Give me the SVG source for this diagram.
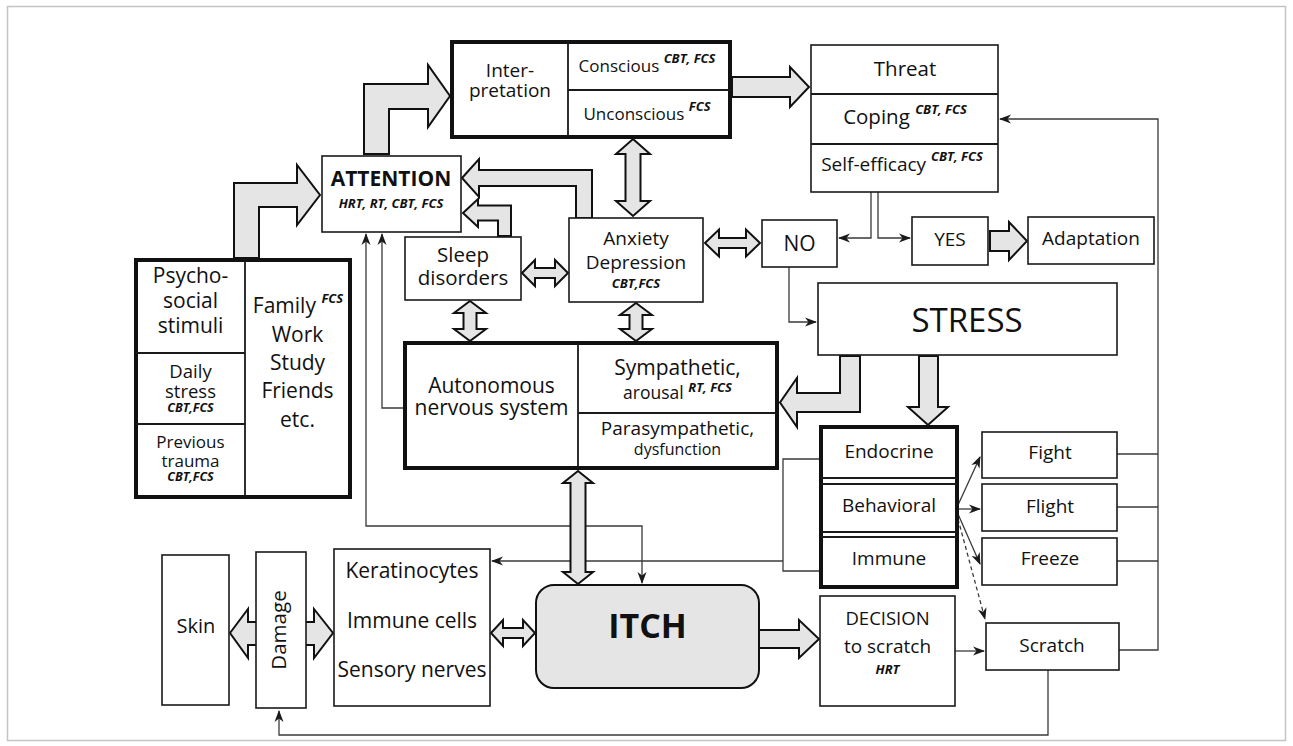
<svg xmlns="http://www.w3.org/2000/svg" width="1293" height="746" viewBox="0 0 1293 746">
<style>
text{font-family:"Open Sans","Noto Sans","DejaVu Sans",sans-serif;fill:#111;text-anchor:middle}
.box{fill:#fff;stroke:#1a1a1a;stroke-width:1.6}
.thick{fill:#fff;stroke:#111;stroke-width:4}
.div{stroke:#1a1a1a;stroke-width:1.8;fill:none}
.blk{fill:#e5e5e5;stroke:#111;stroke-width:2;stroke-linejoin:miter}
.ln{fill:none;stroke:#3a3a3a;stroke-width:1.3}
.bi{font-weight:bold;font-style:italic}
.sup{font-weight:bold;font-style:italic;font-size:13px}
</style>
<defs>
<marker id="ah" viewBox="0 0 12 10" refX="11" refY="5" markerWidth="12" markerHeight="10" markerUnits="userSpaceOnUse" orient="auto-start-reverse">
<path d="M0,0.5 L12,5 L0,9.5 L3.5,5 z" fill="#1a1a1a"/>
</marker>
</defs>
<rect x="7.5" y="6.5" width="1278" height="734" fill="#fff" stroke="#c4c4c4" stroke-width="1.5"/>

<g id="connectors">
<g id="thin-lines">
<path class="ln" d="M405,408 H382 V234" marker-end="url(#ah)"/>
<path class="ln" d="M366,234 V526 H642 V583" marker-start="url(#ah)" marker-end="url(#ah)"/>
<path class="ln" d="M821,459 H783 V571 H821"/>
<path class="ln" d="M783,561 H492" marker-end="url(#ah)"/>
<path class="ln" d="M871,192 V238 H839" marker-end="url(#ah)"/>
<path class="ln" d="M878,192 V238 H910" marker-end="url(#ah)"/>
<path class="ln" d="M789,267 V322 H816" marker-end="url(#ah)"/>
<path class="ln" d="M958,505 L980,457" marker-end="url(#ah)"/>
<path class="ln" d="M958,509 H980" marker-end="url(#ah)"/>
<path class="ln" d="M958,514 L980,564" marker-end="url(#ah)"/>
<path class="ln" d="M958,519 L985,619" stroke-dasharray="4,3" marker-end="url(#ah)"/>
<path class="ln" d="M1117,454 H1158"/>
<path class="ln" d="M1117,507 H1158"/>
<path class="ln" d="M1117,561 H1158"/>
<path class="ln" d="M1119,650 H1158 V119 H1000" marker-end="url(#ah)"/>
<path class="ln" d="M955,651 H984" marker-end="url(#ah)"/>
<path class="ln" d="M1048,670 V735 H279 V711" marker-end="url(#ah)"/>
</g>
<g id="block-arrows">
<polygon class="blk" points="234,258 234,183 297,183 297,165 320,195 297,225 297,207 259,207 259,258"/>
<polygon class="blk" points="364,154 364,84 428,84 428,65 450,96 428,127 428,109 389,109 389,154"/>
<polygon class="blk" points="462,178 479,159 479,170 592,170 592,218 576,218 576,186 479,186 479,197"/>
<polygon class="blk" points="463,213 478,199 478,205.5 511,205.5 511,236 498,236 498,220.5 478,220.5 478,227"/>
<polygon class="blk" points="633,139 650,154 640.5,154 640.5,201 650,201 633,216 616,201 625.5,201 625.5,154 616,154"/>
<polygon class="blk" points="732,77 790,77 790,67 809,87 790,107 790,97 732,97"/>
<polygon class="blk" points="705,243 719,229.5 719,238 746,238 746,229.5 760,243 746,256.5 746,248 719,248 719,256.5"/>
<polygon class="blk" points="522,273 535,260 535,268 555,268 555,260 568,273 555,286 555,278 535,278 535,286"/>
<polygon class="blk" points="470,301 486,313 476.5,313 476.5,329 486,329 470,341 454,329 463.5,329 463.5,313 454,313"/>
<polygon class="blk" points="636,303 652,315 642.5,315 642.5,329 652,329 636,341 620,329 629.5,329 629.5,315 620,315"/>
<polygon class="blk" points="990,231 1009,231 1009,222 1027,241 1009,260 1009,251 990,251"/>
<polygon class="blk" points="860,356 860,412 797,412 797,427 780,402.5 797,378 797,393 840,393 840,356"/>
<polygon class="blk" points="919,356 938,356 938,407 948,407 928,425 908,407 919,407"/>
<polygon class="blk" points="578,471 593,483 585.5,483 585.5,572 593,572 578,584 563,572 570.5,572 570.5,483 563,483"/>
<polygon class="blk" points="491,633 503,620 503,628 523,628 523,620 535,633 523,646 523,638 503,638 503,646"/>
<polygon class="blk" points="230,633 248,609 248,622 314,622 314,609 333,633 314,658 314,645 248,645 248,658"/>
<polygon class="blk" points="759,630 799,630 799,620 819,639 799,658 799,648 759,648"/>
</g>
</g>

<g id="interpretation">
<rect class="thick" x="452" y="42" width="278" height="95"/>
<path class="div" d="M568,42 V137 M568,90 H730"/>
<text x="510" y="77" font-size="19">Inter-</text>
<text x="510" y="97" font-size="19">pretation</text>
<text x="647" y="72" font-size="17">Conscious <tspan class="sup" dy="-9">CBT, FCS</tspan></text>
<text x="647" y="120" font-size="17">Unconscious <tspan class="sup" dy="-9">FCS</tspan></text>
</g>

<g id="threat">
<rect class="box" x="811" y="45" width="187" height="147"/>
<path class="div" d="M811,94 H998 M811,144 H998"/>
<text x="905" y="76" font-size="20.5">Threat</text>
<text x="905" y="124" font-size="20.5">Coping <tspan class="sup" dy="-10">CBT, FCS</tspan></text>
<text x="902" y="171" font-size="19">Self-efficacy <tspan class="sup" dy="-10">CBT, FCS</tspan></text>
</g>

<g id="attention">
<rect class="box" x="322" y="156" width="139" height="76"/>
<text x="391" y="186" font-size="21" font-weight="bold">ATTENTION</text>
<text x="391" y="208" font-size="13" class="bi">HRT, RT, CBT, FCS</text>
</g>

<g id="sleep">
<rect class="box" x="405" y="237" width="116" height="63"/>
<text x="463" y="262" font-size="20.5">Sleep</text>
<text x="463" y="285" font-size="20.5">disorders</text>
</g>

<g id="anxiety">
<rect class="box" x="569" y="218" width="134" height="84"/>
<text x="636" y="245" font-size="19">Anxiety</text>
<text x="636" y="269" font-size="19">Depression</text>
<text x="636" y="288" font-size="13" class="bi">CBT,FCS</text>
</g>

<g id="no">
<rect class="box" x="762" y="220" width="75" height="47"/>
<text x="799.5" y="251" font-size="21">NO</text>
</g>

<g id="yes">
<rect class="box" x="912" y="217" width="76" height="48"/>
<text x="950" y="246" font-size="19">YES</text>
</g>

<g id="adaptation">
<rect class="box" x="1028" y="217" width="126" height="47"/>
<text x="1091" y="245" font-size="19">Adaptation</text>
</g>

<g id="stress">
<rect class="box" x="818" y="283" width="299" height="72"/>
<text x="967" y="332" font-size="33">STRESS</text>
</g>

<g id="psychosocial">
<rect class="thick" x="136" y="260" width="214" height="237"/>
<path class="div" d="M245,260 V497 M136,353 H245 M136,424 H245"/>
<text x="190.5" y="283" font-size="21">Psycho-</text>
<text x="190.5" y="308" font-size="21">social</text>
<text x="190.5" y="333" font-size="21">stimuli</text>
<text x="190.5" y="378" font-size="18.5">Daily</text>
<text x="190.5" y="398" font-size="18.5">stress</text>
<text x="190.5" y="412" font-size="12.5" class="bi">CBT,FCS</text>
<text x="190.5" y="448" font-size="17">Previous</text>
<text x="190.5" y="467" font-size="17">trauma</text>
<text x="190.5" y="481" font-size="12.5" class="bi">CBT,FCS</text>
<text x="298" y="313" font-size="21">Family <tspan class="sup" dy="-10">FCS</tspan></text>
<text x="297.5" y="342" font-size="21">Work</text>
<text x="297.5" y="370" font-size="21">Study</text>
<text x="297.5" y="398" font-size="21">Friends</text>
<text x="297.5" y="427" font-size="21">etc.</text>
</g>

<g id="ans">
<rect class="thick" x="405" y="343" width="372" height="125"/>
<path class="div" d="M578,343 V468 M578,413 H777"/>
<text x="491.5" y="393" font-size="21">Autonomous</text>
<text x="491.5" y="415" font-size="21">nervous system</text>
<text x="677.5" y="375" font-size="21">Sympathetic,</text>
<text x="677.5" y="399" font-size="17.5">arousal <tspan class="sup" font-size="10" dy="-7">RT, FCS</tspan></text>
<text x="677.5" y="435" font-size="19">Parasympathetic,</text>
<text x="677.5" y="455" font-size="16">dysfunction</text>
</g>

<g id="responses">
<rect class="thick" x="821" y="427" width="136" height="160" stroke-width="5"/>
<path class="div" d="M821,478 H957 M821,484 H957 M821,532 H957 M821,537 H957"/>
<text x="889" y="458" font-size="19">Endocrine</text>
<text x="889" y="512" font-size="19">Behavioral</text>
<text x="889" y="565" font-size="19">Immune</text>
</g>

<g id="fight">
<rect class="box" x="982" y="432" width="135" height="46"/>
<text x="1050" y="459" font-size="19">Fight</text>
</g>
<g id="flight">
<rect class="box" x="982" y="484" width="135" height="47"/>
<text x="1050" y="513" font-size="19">Flight</text>
</g>
<g id="freeze">
<rect class="box" x="982" y="538" width="135" height="47"/>
<text x="1050" y="565" font-size="19">Freeze</text>
</g>

<g id="scratch">
<rect class="box" x="986" y="623" width="133" height="47"/>
<text x="1052" y="652" font-size="19">Scratch</text>
</g>

<g id="decision">
<rect class="box" x="820" y="596" width="135" height="110"/>
<text x="887.5" y="625" font-size="18.5">DECISION</text>
<text x="887.5" y="653" font-size="19">to scratch</text>
<text x="887.5" y="674" font-size="13" class="bi">HRT</text>
</g>

<g id="itch">
<rect x="536" y="585" width="223" height="103" rx="18" ry="18" fill="#e5e5e5" stroke="#111" stroke-width="2"/>
<text x="647.5" y="638" font-size="34" font-weight="bold">ITCH</text>
</g>

<g id="skin">
<rect class="box" x="162" y="555" width="67" height="150"/>
<text x="196" y="633" font-size="20">Skin</text>
</g>

<g id="damage">
<rect class="box" x="256" y="552" width="50" height="156"/>
<text transform="translate(286,630) rotate(-90)" font-size="20.5">Damage</text>
</g>

<g id="cells">
<rect class="box" x="334" y="549" width="156" height="157"/>
<text x="412" y="578" font-size="21">Keratinocytes</text>
<text x="412" y="628" font-size="21">Immune cells</text>
<text x="412" y="677" font-size="21">Sensory nerves</text>
</g>
</svg>
